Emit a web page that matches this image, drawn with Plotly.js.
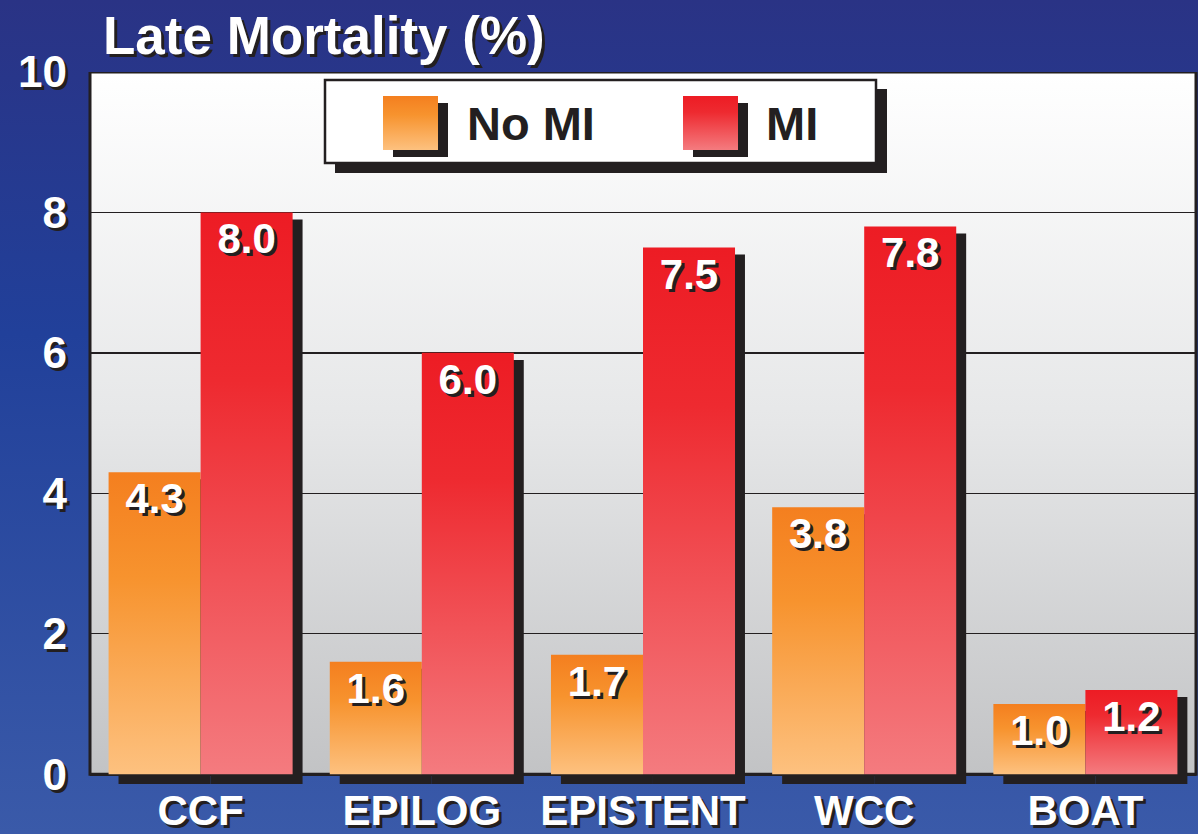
<!DOCTYPE html>
<html>
<head>
<meta charset="utf-8">
<script src="https://cdn.plot.ly/plotly-3.0.1.min.js"></script>
<style>
html,body{margin:0;padding:0;background:#2a3586;}
#chart{width:1198px;height:834px;background:linear-gradient(to bottom,#2a3385 0%,#21409a 40%,#3a5aa9 100%);}
</style>
</head>
<body>
<div id="chart"></div>
<script>
// ---- data ----
const categories = ['CCF', 'EPILOG', 'EPISTENT', 'WCC', 'BOAT'];
const noMI = [4.3, 1.6, 1.7, 3.8, 1.0];
const mi = [8.0, 6.0, 7.5, 7.8, 1.2];
const seriesNames = ['No MI', 'MI'];
const yTicks = [0, 2, 4, 6, 8, 10];

// ---- style ----
const FONT = '"Liberation Sans", Arial, sans-serif';
const DARK = '#231f20';
const SHADOW = '3px 3px 0px #231f20';
const BW = 0.416;      // bar width (category units)
const SHX = 0.045;     // shadow shift right
const SHY = 0.1;       // shadow shift down
const YMIN = -0.14;

// marker placeholder colours (replaced by gradients after render)
const C_ORANGE = 'rgb(245, 130, 33)';
const C_RED = 'rgb(237, 29, 37)';
const C_PLOT = 'rgb(201, 202, 203)';

// pixel -> paper conversion helpers for layout furniture
const L = 90, R = 2, T = 72, PB = 784, W = 1198, H = 834;
const px = v => (v - L) / (W - L - R);
const py = v => (PB - v) / (PB - T);

function shadowTrace(vals, off) {
  return {
    type: 'bar', x: categories,
    y: vals.map(v => v - SHY - YMIN),
    base: vals.map(() => YMIN),
    width: BW, offset: off + SHX,
    marker: {color: DARK, line: {width: 0}},
    hoverinfo: 'skip', showlegend: false
  };
}

const textFont = {family: FONT, size: 42, color: '#ffffff', weight: 'bold', shadow: SHADOW};

const traces = [
  shadowTrace(noMI, -BW),
  shadowTrace(mi, 0),
  {
    type: 'bar', name: seriesNames[0], x: categories, y: noMI,
    width: BW, offset: -BW,
    marker: {color: C_ORANGE, line: {width: 0}},
    text: noMI.map(v => v.toFixed(1)), textposition: 'inside', insidetextanchor: 'end',
    textangle: 0, constraintext: 'none', textfont: textFont, showlegend: false
  },
  {
    type: 'bar', name: seriesNames[1], x: categories, y: mi,
    width: BW, offset: 0,
    marker: {color: C_RED, line: {width: 0}},
    text: mi.map(v => v.toFixed(1)), textposition: 'inside', insidetextanchor: 'end',
    textangle: 0, constraintext: 'none', textfont: textFont, showlegend: false
  }
];

const shapes = [
  // plot area background + border
  {type: 'rect', xref: 'paper', yref: 'y', x0: 0, x1: 1, y0: 0, y1: 10, layer: 'below',
   fillcolor: C_PLOT, line: {color: DARK, width: 3}},
  // legend shadow
  {type: 'rect', xref: 'paper', yref: 'paper', x0: px(335), x1: px(887), y0: py(173), y1: py(89),
   fillcolor: DARK, line: {width: 0}},
  // legend box
  {type: 'rect', xref: 'paper', yref: 'paper', x0: px(325), x1: px(876), y0: py(163), y1: py(80),
   fillcolor: '#ffffff', line: {color: DARK, width: 2.5}},
  // swatch shadows
  {type: 'rect', xref: 'paper', yref: 'paper', x0: px(393), x1: px(448), y0: py(157), y1: py(103),
   fillcolor: DARK, line: {width: 0}},
  {type: 'rect', xref: 'paper', yref: 'paper', x0: px(693), x1: px(748), y0: py(157), y1: py(103),
   fillcolor: DARK, line: {width: 0}},
  // swatches
  {type: 'rect', xref: 'paper', yref: 'paper', x0: px(383), x1: px(438), y0: py(150), y1: py(96),
   fillcolor: C_ORANGE, line: {width: 0}},
  {type: 'rect', xref: 'paper', yref: 'paper', x0: px(683), x1: px(738), y0: py(150), y1: py(96),
   fillcolor: C_RED, line: {width: 0}}
];

const annotations = [
  {text: 'Late Mortality (%)', xref: 'paper', yref: 'paper', x: px(101), y: py(36),
   xanchor: 'left', yanchor: 'middle', showarrow: false,
   font: {family: FONT, size: 53, color: '#ffffff', weight: 'bold', shadow: SHADOW}},
  {text: seriesNames[0], xref: 'paper', yref: 'paper', x: px(465), y: py(124),
   xanchor: 'left', yanchor: 'middle', showarrow: false,
   font: {family: FONT, size: 47, color: DARK, weight: 'bold'}},
  {text: seriesNames[1], xref: 'paper', yref: 'paper', x: px(764), y: py(124),
   xanchor: 'left', yanchor: 'middle', showarrow: false,
   font: {family: FONT, size: 47, color: DARK, weight: 'bold'}}
];

const layout = {
  width: W, height: H,
  margin: {l: L, r: R, t: T, b: H - PB, pad: 0},
  paper_bgcolor: 'rgba(0,0,0,0)',
  plot_bgcolor: 'rgba(0,0,0,0)',
  barmode: 'overlay',
  showlegend: false,
  xaxis: {
    type: 'category', range: [-0.5, 4.5], fixedrange: true,
    showgrid: false, zeroline: false, showline: false, ticks: '',
    ticklabelstandoff: -2,
    tickfont: {family: FONT, size: 42, color: '#ffffff', weight: 'bold', shadow: SHADOW}
  },
  yaxis: {
    range: [YMIN, 10], tickvals: yTicks, ticktext: yTicks.map(String),
    showgrid: true, gridcolor: DARK, gridwidth: 1.5,
    zeroline: true, zerolinecolor: DARK, zerolinewidth: 3,
    showline: false, ticks: '', ticklabelstandoff: 22,
    tickfont: {family: FONT, size: 44, color: '#ffffff', weight: 'bold', shadow: SHADOW}
  },
  shapes: shapes,
  annotations: annotations
};

const gd = document.getElementById('chart');
Plotly.newPlot(gd, traces, layout, {staticPlot: true, displayModeBar: false}).then(() => {
  const svg = gd.querySelector('svg.main-svg');
  const NS = 'http://www.w3.org/2000/svg';
  let defs = svg.querySelector('defs');
  if (!defs) { defs = document.createElementNS(NS, 'defs'); svg.insertBefore(defs, svg.firstChild); }
  function grad(id, stops) {
    const g = document.createElementNS(NS, 'linearGradient');
    g.setAttribute('id', id);
    g.setAttribute('x1', '0'); g.setAttribute('y1', '0');
    g.setAttribute('x2', '0'); g.setAttribute('y2', '1');
    stops.forEach(([o, c]) => {
      const s = document.createElementNS(NS, 'stop');
      s.setAttribute('offset', o); s.setAttribute('stop-color', c);
      g.appendChild(s);
    });
    defs.appendChild(g);
  }
  grad('gOrange', [[0, '#f47f1f'], [0.35, '#f7932e'], [1, '#fdc17f']]);
  grad('gRed', [[0, '#ed1c24'], [0.3, '#ee2a30'], [1, '#f47b7f']]);
  grad('gPlot', [[0, '#ffffff'], [0.5, '#e6e7e8'], [1, '#c2c3c5']]);
  const map = {};
  map[C_ORANGE] = 'url(#gOrange)';
  map[C_RED] = 'url(#gRed)';
  map[C_PLOT] = 'url(#gPlot)';
  gd.querySelectorAll('path').forEach(p => {
    const f = p.style.fill;
    if (map[f]) p.style.fill = map[f];
  });
});
</script>
</body>
</html>
